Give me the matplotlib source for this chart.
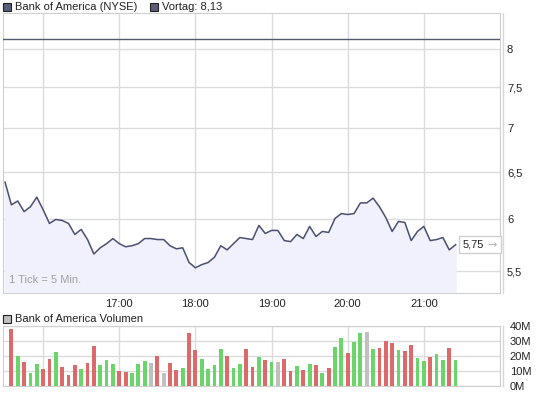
import numpy as np
import pandas as pd
import matplotlib
matplotlib.use("Agg")
import matplotlib.pyplot as plt
import matplotlib.dates as mdates
from matplotlib.lines import Line2D
from matplotlib.patches import Rectangle

plt.rcParams["font.family"] = ["Liberation Sans", "DejaVu Sans"]
plt.rcParams["font.size"] = 8

# 5-minute quotes, 15:30 - 21:25
prices = [6.39, 6.15, 6.19, 6.08, 6.13, 6.23, 6.10, 5.96, 6.00, 5.99,
          5.96, 5.85, 5.90, 5.80, 5.66, 5.72, 5.76, 5.81, 5.76, 5.73,
          5.74, 5.76, 5.81, 5.81, 5.80, 5.80, 5.74, 5.71, 5.72, 5.58,
          5.53, 5.56, 5.58, 5.63, 5.74, 5.70, 5.76, 5.82, 5.81, 5.80,
          5.94, 5.86, 5.89, 5.89, 5.79, 5.78, 5.85, 5.81, 5.93, 5.83,
          5.88, 5.87, 6.01, 6.06, 6.05, 6.06, 6.17, 6.17, 6.22, 6.13,
          6.02, 5.88, 5.98, 5.97, 5.79, 5.88, 5.93, 5.79, 5.80, 5.82,
          5.70, 5.75]
# volume in millions, one bar per interval (15:35 - 21:25)
volume = [38.0, 20.0, 16.0, 8.7, 14.7, 11.3, 18.0, 22.7, 12.7, 7.3,
          14.0, 11.3, 15.3, 26.7, 14.0, 17.3, 14.9, 10.0, 9.3, 8.7,
          14.7, 16.7, 15.3, 20.0, 8.7, 15.3, 10.7, 12.0, 35.3, 24.0,
          18.0, 11.3, 14.0, 24.7, 20.0, 12.0, 14.7, 24.7, 12.7, 19.3,
          17.3, 16.0, 16.0, 18.0, 10.0, 13.3, 10.7, 14.7, 14.0, 8.7,
          12.0, 26.0, 32.0, 22.0, 29.3, 35.3, 36.0, 24.7, 25.3, 30.0,
          28.7, 24.0, 23.3, 27.3, 18.7, 16.7, 19.3, 21.3, 17.3, 25.3,
          17.3]
prev_close = 8.13
last_price = "5,75"
price_ticks = [5.5, 6, 6.5, 7, 7.5, 8]
price_labels = ["5,5", "6", "6,5", "7", "7,5", "8"]
vol_ticks = [0, 10, 20, 30, 40]
vol_labels = ["0M", "10M", "20M", "30M", "40M"]
hour_labels = ["17:00", "18:00", "19:00", "20:00", "21:00"]

times = pd.date_range("2009-01-20 15:30", periods=len(prices), freq="5min")
day = pd.Timestamp("2009-01-20")
hours = [day + pd.Timedelta(hours=h) for h in range(16, 22)]
xmin = day + pd.Timedelta(hours=15, minutes=28.4)
xmax = day + pd.Timedelta(hours=22)

W, H = 545, 395
fig = plt.figure(figsize=(W / 100, H / 100), dpi=100)
fig.patch.set_facecolor("white")

grid_c = "#dcdcdc"
line_c = "#4b5070"
red = "#dc6a6a"
green = "#6ad66a"
gray = "#c0c0c0"


def px_rect(l, t, r, b):
    return [l / W, 1 - b / H, (r - l) / W, (b - t) / H]


def style_axes(ax):
    for s in ax.spines.values():
        s.set_color("#d0d0d0")
    ax.tick_params(length=0, labelsize=8, colors="#222222")
    ax.yaxis.tick_right()
    ax.grid(True, color=grid_c, lw=1)
    ax.set_axisbelow(True)
    ax.set_xlim(xmin, xmax)


# price chart
ax = fig.add_axes(px_rect(3, 13, 500, 293))
style_axes(ax)
ax.set_yscale("log")
ax.set_ylim(5.30, 8.50)
ax.yaxis.set_major_locator(matplotlib.ticker.FixedLocator(price_ticks))
ax.yaxis.set_minor_locator(matplotlib.ticker.NullLocator())
ax.set_yticklabels(price_labels)
ax.tick_params(axis="y", pad=5)
ax.xaxis.set_major_locator(matplotlib.ticker.FixedLocator(mdates.date2num(hours)))
ax.set_xticklabels([""] + hour_labels)
ax.tick_params(axis="x", pad=4)
ax.fill_between(times, prices, 5.30, color="#f1f1fd", zorder=1)
ax.plot(times, prices, color=line_c, lw=1.1, zorder=3)
ax.axhline(prev_close, color="#555a6e", lw=1, zorder=3)
ax.text(0.012, 0.03, "1 Tick = 5 Min.", transform=ax.transAxes,
        color="#a0a0a0", fontsize=8, va="bottom")

# last price box, anchored at the last quote's height
y_last = H - ax.transData.transform((mdates.date2num(times[-1]), prices[-1]))[1]
fig.add_artist(Rectangle((459 / W, 1 - (y_last + 8.5) / H), 42 / W, 17 / H,
                         fc="white", ec="#d0d0d0", lw=1, zorder=5))
fig.text(463 / W, 1 - y_last / H, last_price, fontsize=8, va="center",
         ha="left", color="#222222", zorder=6)
fig.text(492 / W, 1 - y_last / H, "\u2192", fontsize=8, va="center",
         ha="center", color="#b0b0b0", zorder=6, family="DejaVu Sans")

# volume chart
vx = fig.add_axes(px_rect(3, 326, 500, 386))
style_axes(vx)
vx.set_ylim(0, 40)
vx.set_yticks(vol_ticks)
vx.set_yticklabels(vol_labels)
vx.tick_params(axis="y", pad=7)
vx.xaxis.set_major_locator(matplotlib.ticker.FixedLocator(mdates.date2num(hours)))
vx.set_xticklabels([])
diff = np.diff(np.round(prices, 2))
bar_colors = [green if d > 0 else red if d < 0 else gray for d in diff]
vx.bar(times[1:], volume, width=3.0 / 1440, color=bar_colors, zorder=3)

# second border line on the right edge
for y0, y1 in [(13, 293), (326, 386)]:
    fig.add_artist(Line2D([502.5 / W, 502.5 / W], [1 - y1 / H, 1 - y0 / H],
                          color="#d8d8d8", lw=1))

# headers
def header(x, y, text, fc):
    fig.add_artist(Rectangle((x / W, 1 - (y + 4) / H), 8 / W, 8 / H,
                             fc=fc, ec="#222222", lw=0.8))
    fig.text((x + 12) / W, 1 - y / H, text, fontsize=8, va="center", color="#222222")

header(3, 7, "Bank of America (NYSE)", "#5a5f78")
header(150, 7, "Vortag: 8,13", "#5a5f78")
header(3, 319, "Bank of America Volumen", "#c0c0c0")

fig.savefig("out.png", dpi=100)
